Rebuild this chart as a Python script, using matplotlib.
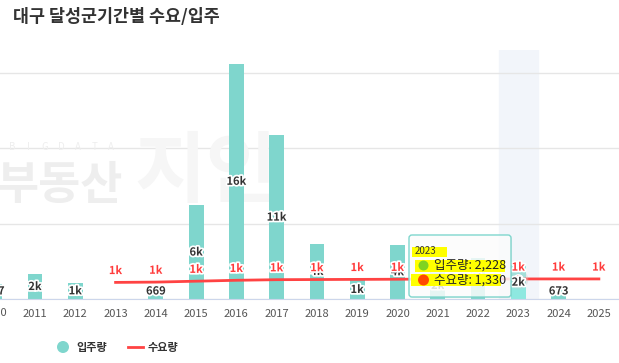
import matplotlib
matplotlib.use('Agg')
import matplotlib.pyplot as plt
import matplotlib.patheffects as pe
from matplotlib.patches import FancyBboxPatch, Rectangle, Circle

plt.rcParams['font.family'] = ['Noto Sans CJK KR', 'DejaVu Sans']

# data
years = list(range(2010, 2026))
supply = [967, 1650, 1080, None, 669, 6220, 15600, 10850, 3640, 1260,
          3600, 1800, 2700, 2228, 673, None]
demand_years = list(range(2013, 2026))
demand = [1100, 1120, 1180, 1240, 1280, 1290, 1300, 1310, 1320, 1320,
          1330, 1330, 1330]

title = '대구 달성군기간별 수요/입주'
supply_name = '입주량'
demand_name = '수요량'
hover_year = 2023

teal = '#7fd6cd'
red = '#ff4343'


def fmt(v):
    if v >= 1000:
        return '%dk' % round(v / 1000)
    return '%d' % v


W, H = 619, 363
fig = plt.figure(figsize=(W / 100, H / 100), dpi=100)

# main plot area
ax = fig.add_axes([0, 64 / H, 1, 249 / H])
ax.set_yticks([0, 5000, 10000, 15000])
ax.yaxis.grid(True, color='#e6e6e6', lw=1)
ax.set_axisbelow(True)
ax.tick_params(axis='y', length=0, labelleft=False)
for s in ['left', 'right', 'top']:
    ax.spines[s].set_visible(False)
ax.spines['bottom'].set_color('#ccd6eb')
ax.set_xticks(years[1:])
ax.set_xticklabels([str(y) for y in years[1:]], fontsize=8, color='#555555')
ax.tick_params(axis='x', length=0, pad=7)
# limits after the ticks, set_xticks widens the view otherwise
ax.set_xlim(2010.13, 2025.5)
ax.set_ylim(0, 16500)
# first year sits half outside the plot, so its label is put by hand
ax.annotate(str(years[0]), (years[0], 0), xycoords=('data', 'axes fraction'),
            xytext=(0, -10), textcoords='offset points', ha='center',
            va='center', fontsize=8, color='#555555', annotation_clip=False)

# overlay in pixel coords (title, watermark, tooltip, legend)
ov = fig.add_axes([0, 0, 1, 1], zorder=10)
ov.set_xlim(0, W)
ov.set_ylim(H, 0)
ov.axis('off')
ov.patch.set_alpha(0)

# hover band
ax.axvspan(hover_year - 0.485, hover_year + 0.485, color='#f2f5fa', zorder=0.5)

# watermark
for i, ch in enumerate('BIGDATA'):
    ax.text(12 + i * 16.5, 147, ch, transform=ov.transData, fontsize=7,
            color='#eeeeee', ha='center', va='center', zorder=0.6)
ax.text(-4, 186, '부동산', transform=ov.transData, fontsize=33,
        color='#eeeeee', va='center', weight='bold', zorder=0.6)
ax.text(134, 173, '지인', transform=ov.transData, fontsize=56,
        color='#f6f6f6', va='center', weight='bold', zorder=0.6)

# columns
halo = [pe.withStroke(linewidth=2.5, foreground='white')]
for y, v in zip(years, supply):
    if v is None:
        continue
    c = '#8ee8e0' if y == hover_year else teal
    ax.bar(y, v, width=0.37, color=c, zorder=2)
    ax.text(y, max(v / 2, 530), fmt(v), ha='center', va='center',
            fontsize=8, weight='bold', color='#333333', zorder=6,
            path_effects=halo)

# demand line
ax.plot(demand_years, demand, color=red, lw=2, zorder=4)
for y, v in zip(demand_years, demand):
    ax.annotate(fmt(v), (y, v), xytext=(0, 8.5), textcoords='offset points',
                ha='center', va='center', fontsize=8, weight='bold',
                color='#ff3b3b', zorder=6, path_effects=halo)
hv = demand[demand_years.index(hover_year)]
ax.scatter([hover_year], [hv], s=200, color='#cccccc', alpha=0.35, zorder=5,
           lw=0)
ax.scatter([hover_year], [hv], s=45, facecolor=red, edgecolor='white', lw=1,
           zorder=5)

# title
ov.text(13, 17, title, fontsize=12.5, weight='bold', color='#333333',
        va='center')

# tooltip
ov.add_patch(FancyBboxPatch((410, 236), 102, 62,
                            boxstyle='round,pad=0,rounding_size=3',
                            fc='black', alpha=0.06, lw=0))
ov.add_patch(FancyBboxPatch((409, 235), 102, 62,
                            boxstyle='round,pad=0,rounding_size=3',
                            fc=(1, 1, 1, 0.82), ec=teal, lw=1))
ov.add_patch(Rectangle((412, 247), 35, 9.5, fc='#ffff00', lw=0))
ov.add_patch(Rectangle((415, 260), 90, 12, fc='#ffff00', lw=0))
ov.add_patch(Rectangle((411, 274), 90, 12, fc='#ffff00', lw=0))
ov.text(415, 251.5, str(hover_year), fontsize=7, color='#333333', va='center')
ov.add_patch(Circle((423.5, 265.5), 5, fc='#7fd321', lw=0))
ov.add_patch(Circle((423.5, 280), 5.5, fc='#ff4a00', lw=0))
hs = supply[years.index(hover_year)]
ov.text(434, 265.5, '%s: %s' % (supply_name, format(hs, ',')), fontsize=9,
        color='#222222', va='center')
ov.text(434, 280, '%s: %s' % (demand_name, format(hv, ',')), fontsize=9,
        color='#222222', va='center')

# legend
ov.add_patch(Circle((63, 347), 6, fc=teal, lw=0))
ov.text(76, 347, supply_name, fontsize=8, weight='bold', color='#333333',
        va='center')
ov.plot([128, 143], [347, 347], color=red, lw=2)
ov.text(148, 347, demand_name, fontsize=8, weight='bold', color='#333333',
        va='center')

fig.savefig('out.png', dpi=100)
